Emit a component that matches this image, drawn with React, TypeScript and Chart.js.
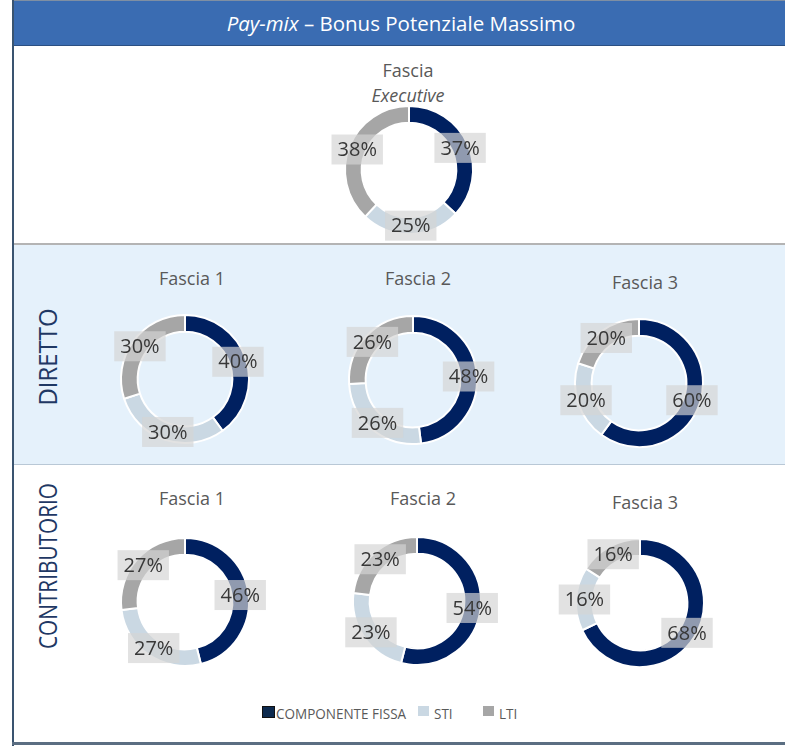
import React, { useEffect, useRef } from "react";
import { Chart, registerables } from "chart.js";

Chart.register(...registerables);

const seriesNames = ["COMPONENTE FISSA", "STI", "LTI"];
const seriesColors = ["#002060", "#cad8e3", "#a6a6a6"];

const executiveValues = [37, 25, 38];
const direttoF1 = [40, 30, 30];
const direttoF2 = [48, 26, 26];
const direttoF3 = [60, 20, 20];
const contribF1 = [46, 27, 27];
const contribF2 = [54, 23, 23];
const contribF3 = [68, 16, 16];

const FONT = "'Open Sans', 'Noto Sans', sans-serif";

const boxLabelPlugin = {
  id: "boxLabels",
  afterDatasetsDraw(chart: any) {
    const ctx = chart.ctx as CanvasRenderingContext2D;
    const meta = chart.getDatasetMeta(0);
    const data = chart.data.datasets[0].data as number[];
    ctx.save();
    ctx.font = `20px ${FONT}`;
    ctx.textAlign = "center";
    ctx.textBaseline = "middle";
    meta.data.forEach((arc: any, i: number) => {
      const p = arc.tooltipPosition(false);
      const txt = `${data[i]}%`;
      const w = ctx.measureText(txt).width + 12;
      const h = 30;
      ctx.fillStyle = "rgba(212,212,212,0.68)";
      ctx.fillRect(p.x - w / 2, p.y - h / 2, w, h);
      ctx.fillStyle = "#383838";
      ctx.fillText(txt, p.x, p.y + 1);
    });
    ctx.restore();
  },
};

const SIZE = 180;

function Donut({ values, cx, cy }: { values: number[]; cx: number; cy: number }) {
  const ref = useRef<HTMLCanvasElement>(null);
  useEffect(() => {
    if (!ref.current) return;
    const chart = new Chart(ref.current, {
      type: "doughnut",
      data: {
        labels: seriesNames,
        datasets: [
          {
            data: values,
            backgroundColor: seriesColors,
            borderColor: "#ffffff",
            borderWidth: 2,
          },
        ],
      },
      options: {
        responsive: false,
        animation: false,
        cutout: "74%",
        layout: { padding: 25 },
        plugins: {
          legend: { display: false },
          tooltip: { enabled: false },
        },
      },
      plugins: [boxLabelPlugin],
    });
    return () => chart.destroy();
  }, [values]);
  return (
    <canvas
      ref={ref}
      width={SIZE}
      height={SIZE}
      style={{ position: "absolute", left: cx - SIZE / 2, top: cy - SIZE / 2, width: SIZE, height: SIZE }}
    />
  );
}

function Label({ text, x, y, size = 18, italic = false }: { text: string; x: number; y: number; size?: number; italic?: boolean }) {
  return (
    <div
      style={{
        position: "absolute",
        left: x,
        top: y,
        transform: "translate(-50%, -50%)",
        fontFamily: FONT,
        fontSize: size,
        fontStyle: italic ? "italic" : "normal",
        color: "#595959",
        whiteSpace: "nowrap",
      }}
    >
      {text}
    </div>
  );
}

function VLabel({ text, x, y, scale }: { text: string; x: number; y: number; scale: number }) {
  return (
    <div
      style={{
        position: "absolute",
        left: x,
        top: y,
        transform: `translate(-50%, -50%) rotate(-90deg) scaleX(${scale})`,
        fontFamily: FONT,
        fontSize: 26,
        fontWeight: 500,
        color: "#1f3864",
        whiteSpace: "nowrap",
      }}
    >
      {text}
    </div>
  );
}

export default function App() {
  const legendItems = [
    { x: 262, tx: 276 },
    { x: 418, tx: 434 },
    { x: 483, tx: 499 },
  ];
  return (
    <div style={{ position: "absolute", left: 0, top: 0, width: 785, height: 746, background: "#ffffff", overflow: "hidden" }}>
      {/* header */}
      <div
        style={{
          position: "absolute",
          left: 13,
          top: 0,
          width: 772,
          height: 44,
          background: "#3a6cb2",
          borderTop: "1px solid #7f8fa3",
          borderBottom: "1px solid #2b4f82",
          color: "#ffffff",
          fontFamily: FONT,
          fontSize: 20.5,
          display: "flex",
          alignItems: "center",
          justifyContent: "center",
          whiteSpace: "nowrap",
        }}
      >
        <span style={{ marginLeft: 4 }}>
          <i>Pay-mix</i> – Bonus Potenziale Massimo
        </span>
      </div>
      {/* Diretto band */}
      <div style={{ position: "absolute", left: 13, top: 243, width: 772, height: 222, background: "#e5f1fb", borderTop: "2px solid #b4b4b4", borderBottom: "1px solid #b9c8d6", boxSizing: "border-box" }} />
      {/* left & bottom border */}
      <div style={{ position: "absolute", left: 12, top: 0, width: 2, height: 746, background: "#3a5470" }} />
      <div style={{ position: "absolute", left: 12, top: 742, width: 773, height: 3, background: "#5b6e82" }} />

      <Label text="Fascia" x={408} y={70} size={18} />
      <Label text="Executive" x={408} y={95} size={18} italic />
      <Donut values={executiveValues} cx={409} cy={170} />

      <VLabel text="DIRETTO" x={47} y={357} scale={0.92} />
      <Label text="Fascia 1" x={192} y={278} />
      <Label text="Fascia 2" x={418} y={278} />
      <Label text="Fascia 3" x={645} y={282} />
      <Donut values={direttoF1} cx={185} cy={379} />
      <Donut values={direttoF2} cx={413} cy={380} />
      <Donut values={direttoF3} cx={639} cy={383} />

      <VLabel text="CONTRIBUTORIO" x={47} y={566} scale={0.8} />
      <Label text="Fascia 1" x={192} y={498} />
      <Label text="Fascia 2" x={423} y={498} />
      <Label text="Fascia 3" x={645} y={502} />
      <Donut values={contribF1} cx={185} cy={602} />
      <Donut values={contribF2} cx={417} cy={601} />
      <Donut values={contribF3} cx={640} cy={603} />

      {/* legend */}
      {seriesNames.map((name, i) => (
        <React.Fragment key={name}>
          <div
            style={{
              position: "absolute",
              left: legendItems[i].x,
              top: 706,
              width: 11,
              height: 10,
              background: i === 0 ? "#0d2a4e" : seriesColors[i],
              border: i === 0 ? "1px solid #111" : "none",
            }}
          />
          <div
            style={{
              position: "absolute",
              left: legendItems[i].tx,
              top: 713,
              transform: "translateY(-50%) scaleX(0.9)",
              transformOrigin: "left center",
              fontFamily: FONT,
              fontSize: 15,
              color: "#595959",
              whiteSpace: "nowrap",
            }}
          >
            {name}
          </div>
        </React.Fragment>
      ))}
    </div>
  );
}
